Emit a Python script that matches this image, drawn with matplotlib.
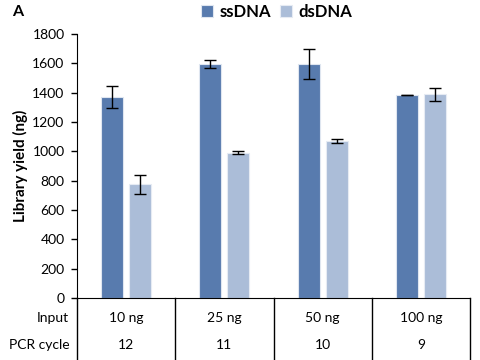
import matplotlib.pyplot as plt
import matplotlib.transforms as mtransforms
import numpy as np

plt.rcParams['font.family'] = ['Lato', 'DejaVu Sans']

inputs = ['10 ng', '25 ng', '50 ng', '100 ng']
cycles = ['12', '11', '10', '9']
ss_yield = [1370, 1595, 1593, 1383]
ss_err = [75, 27, 102, 2]
ds_yield = [775, 992, 1073, 1388]
ds_err = [65, 8, 14, 45]

ss_col = '#587bae'
ds_col = '#abbdd8'

fig = plt.figure(figsize=(4.8, 3.6), dpi=100)
ax = fig.add_axes([77/480, 1-298/360, 393/480, 264/360])

x = np.arange(len(inputs))
w = 0.225
off = 0.143
ax.bar(x - off, ss_yield, w, color=ss_col, edgecolor='#dfe6f0', linewidth=0.8, label='ssDNA')
ax.bar(x + off, ds_yield, w, color=ds_col, edgecolor='#e6ebf3', linewidth=0.8, label='dsDNA')
ax.errorbar(x - off, ss_yield, yerr=ss_err, fmt='none', ecolor='black', elinewidth=1, capsize=4, capthick=1)
ax.errorbar(x + off, ds_yield, yerr=ds_err, fmt='none', ecolor='black', elinewidth=1, capsize=4, capthick=1)

ax.set_xlim(-0.5, len(inputs) - 0.5)
ax.set_ylim(0, 1800)
ax.set_yticks(np.arange(0, 1801, 200))
ax.tick_params(axis='y', labelsize=10, length=4, width=1, pad=5)
ax.set_xticks([])
for s in ['top', 'right']:
    ax.spines[s].set_visible(False)
ax.spines['left'].set_bounds(0, 1800)
ax.set_ylabel('Library yield (ng)', fontsize=11, fontweight='bold', labelpad=3)

# table under the axis
bot = -62/264
trans = mtransforms.blended_transform_factory(ax.transData, ax.transAxes)
for b in np.arange(-0.5, len(inputs), 1.0):
    ax.plot([b, b], [0, bot], color='black', lw=1, transform=trans, clip_on=False)
for i in range(len(inputs)):
    ax.text(x[i], -20/264, inputs[i], transform=trans, ha='center', va='center', fontsize=10)
    ax.text(x[i], -47/264, cycles[i], transform=trans, ha='center', va='center', fontsize=10)
ax.text(-0.02, -20/264, 'Input', transform=ax.transAxes, ha='right', va='center', fontsize=10)
ax.text(-0.02, -47/264, 'PCR cycle', transform=ax.transAxes, ha='right', va='center', fontsize=10)

fig.legend(loc='center', bbox_to_anchor=(277/480, 1-12/360), ncol=2, frameon=False,
           prop={'weight': 'bold', 'size': 12}, handlelength=0.7, handleheight=0.7,
           handletextpad=0.4, columnspacing=0.55, borderpad=0)
fig.text(12/480, 1-12/360, 'A', fontsize=11.5, fontweight='bold', ha='left', va='center')

fig.savefig('out.png', dpi=100)
